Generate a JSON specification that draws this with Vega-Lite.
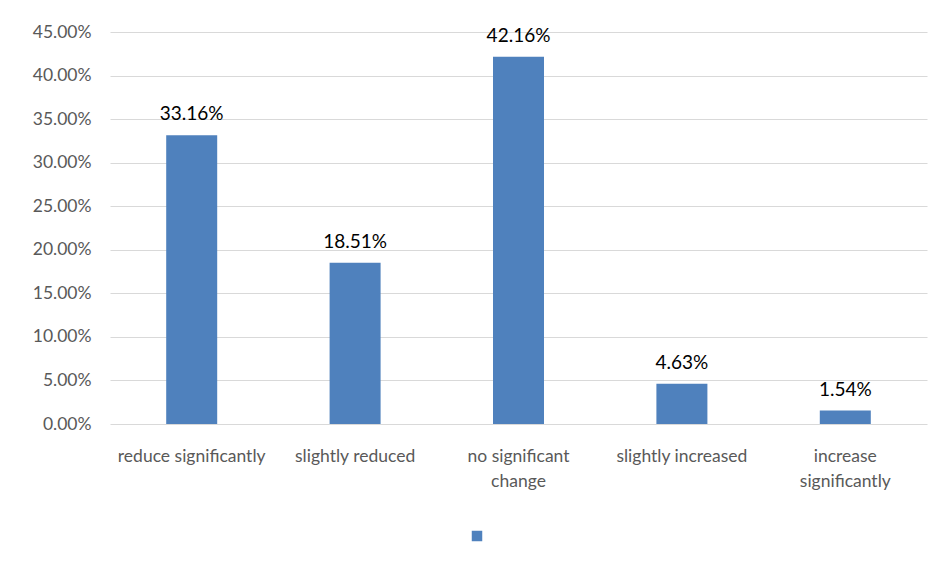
{
  "$schema": "https://vega.github.io/schema/vega-lite/v6.json",
  "width": 817,
  "height": 392,
  "autosize": {"type": "none"},
  "padding": {"left": 110, "top": 32, "right": 11, "bottom": 139},
  "background": "white",
  "config": {
    "font": "Lato",
    "view": {"stroke": null},
    "axis": {"labelFont": "Lato", "labelColor": "#595959"}
  },
  "data": {
    "values": [
      {"category": "reduce significantly", "share": 0.3316, "series": "s"},
      {"category": "slightly reduced", "share": 0.1851, "series": "s"},
      {"category": "no significant change", "share": 0.4216, "series": "s"},
      {"category": "slightly increased", "share": 0.0463, "series": "s"},
      {"category": "increase significantly", "share": 0.0154, "series": "s"}
    ]
  },
  "encoding": {
    "x": {
      "field": "category",
      "type": "nominal",
      "sort": null,
      "scale": {"paddingInner": 0, "paddingOuter": 0},
      "axis": {
        "title": null,
        "labelAngle": 0,
        "domain": false,
        "ticks": false,
        "labelFontSize": 17.5,
        "labelPadding": 23,
        "labelLineHeight": 25,
        "labelExpr": "datum.value == 'no significant change' ? ['no significant', 'change'] : datum.value == 'increase significantly' ? ['increase', 'significantly'] : datum.value"
      }
    },
    "y": {
      "field": "share",
      "type": "quantitative",
      "scale": {"domain": [0, 0.45], "nice": false},
      "axis": {
        "title": null,
        "values": [0, 0.05, 0.1, 0.15, 0.2, 0.25, 0.3, 0.35, 0.4, 0.45],
        "format": ".2%",
        "domain": false,
        "ticks": false,
        "labelPadding": 19,
        "labelFontSize": 17.5,
        "gridColor": "#d9d9d9",
        "gridWidth": 1
      }
    }
  },
  "layer": [
    {
      "mark": {"type": "bar", "size": 51},
      "encoding": {
        "color": {
          "field": "series",
          "type": "nominal",
          "scale": {"range": ["#4f81bd"]},
          "legend": {
            "title": null,
            "orient": "none",
            "legendX": 361,
            "legendY": 498,
            "padding": 0,
            "symbolType": "square",
            "symbolSize": 110,
            "labelExpr": "''",
            "labelFontSize": 1
          }
        }
      }
    },
    {
      "mark": {"type": "text", "baseline": "bottom", "dy": -11, "fontSize": 19, "color": "#000000", "font": "Lato"},
      "encoding": {
        "text": {"field": "share", "type": "quantitative", "format": ".2%"}
      }
    }
  ]
}
